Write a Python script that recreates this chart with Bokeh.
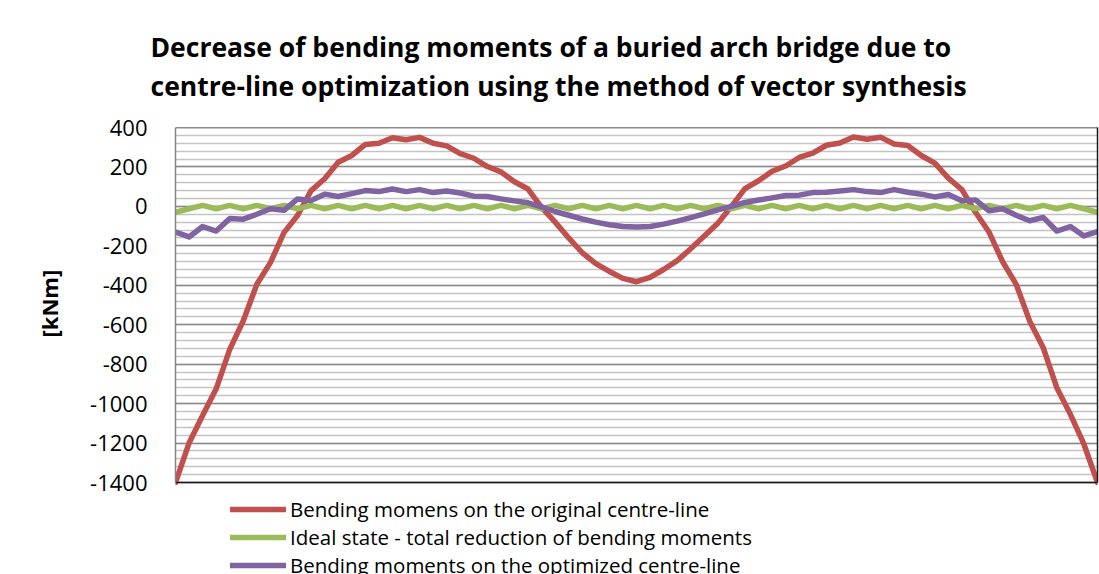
from bokeh.plotting import figure
from bokeh.models import Range1d, FixedTicker, Legend, LegendItem, Title, LinearAxis
from bokeh.embed import file_html
from bokeh.resources import INLINE

title_lines = [
    "Decrease of bending moments of a buried arch bridge due to",
    "centre-line optimization using the method of vector synthesis",
]
y_axis_label = "[kNm]"
series_names = [
    "Bending momens on the original centre-line",
    "Ideal state - total reduction of bending moments",
    "Bending moments on the optimized centre-line",
]
y_ticks = [-1400, -1200, -1000, -800, -600, -400, -200, 0, 200, 400]
y_tick_labels = ["-1400", "-1200", "-1000", "-800", "-600", "-400", "-200", "0", "200", "400"]

original = [-1400, -1200, -1060, -925, -725, -580, -395, -285, -133, -46, 80, 140, 224, 258,
            314, 320, 348, 338, 350, 320, 307, 268, 244, 202, 175, 125, 88, -5, -80, -160,
            -235, -290, -330, -365, -382, -360, -320, -275, -215, -150, -85, 0, 90, 130, 178,
            205, 248, 270, 310, 321, 352, 340, 351, 316, 309, 258, 219, 143, 85, -30, -130,
            -280, -395, -582, -717, -919, -1054, -1206, -1400]
ideal = [-30, -12, 5, -12, 5, -12, 5, -12, 5, -12, 5, -12, 5, -12, 5, -12, 5, -12, 5, -12,
         5, -12, 5, -12, 5, -12, 5, -12, 5, -12, 5, -12, 5, -12, 5, -12, 5, -12, 5, -12,
         5, -12, 5, -12, 5, -12, 5, -12, 5, -12, 5, -12, 5, -12, 5, -12, 5, -12, 5, -12,
         5, -12, 5, -12, 5, -12, 5, -12, -30]
optimized = [-130, -155, -102, -125, -62, -65, -40, -12, -20, 38, 30, 62, 50, 65, 80, 75, 88,
             75, 85, 70, 78, 68, 52, 50, 38, 28, 18, -3, -26, -45, -64, -80, -93, -102, -105,
             -102, -90, -75, -57, -38, -18, 0, 20, 32, 43, 55, 57, 70, 72, 78, 85, 75,
             70, 85, 72, 62, 48, 60, 28, 33, -22, -12, -45, -73, -56, -125, -102, -150, -128]
sections = list(range(len(original)))

colors = ["#C0504D", "#9BBB59", "#8064A2"]
FONT = "Open Sans"
Y_MIN, Y_MAX = y_ticks[0], y_ticks[-1]
# the frame reaches down to the canvas bottom so the legend can sit under the plot area
Y_LOW = Y_MIN - 92 * (Y_MAX - Y_MIN) / 355.0

p = figure(width=1099, height=574, output_backend="svg", toolbar_location=None,
           x_range=Range1d(sections[0], sections[-1]), y_range=Range1d(Y_LOW, Y_MAX),
           x_axis_location=None,
           min_border_left=175, min_border_right=2, min_border_top=127, min_border_bottom=0)
p.background_fill_color = "white"
p.border_fill_color = "white"
p.outline_line_color = None

# grid
p.xgrid.grid_line_color = None
p.yaxis.ticker = FixedTicker(ticks=y_ticks, minor_ticks=list(range(Y_MIN, Y_MAX + 1, 40)))
p.ygrid.grid_line_color = "#8a8a8a"
p.ygrid.grid_line_width = 1.5
p.ygrid.minor_grid_line_color = "#c4c4c4"
p.ygrid.minor_grid_line_width = 1.5


def bare_axis(ax, color):
    ax.ticker = FixedTicker(ticks=[])
    ax.major_label_standoff = 0
    ax.major_tick_in = 0
    ax.major_tick_out = 0
    ax.minor_tick_in = 0
    ax.minor_tick_out = 0
    ax.axis_line_color = color
    ax.axis_line_width = 1.5


# plot-area border: bottom, top and right lines
bottom_ax = LinearAxis(fixed_location=Y_MIN)
bare_axis(bottom_ax, "#1a1a1a")
p.add_layout(bottom_ax, "above")
top_ax = LinearAxis(fixed_location=Y_MAX)
bare_axis(top_ax, "#1a1a1a")
p.add_layout(top_ax, "above")
right_ax = LinearAxis(bounds=(Y_MIN, Y_MAX))
bare_axis(right_ax, "#1a1a1a")
p.add_layout(right_ax, "right")

# y axis
yax = p.yaxis[0]
yax.bounds = (Y_MIN, Y_MAX)
yax.major_label_overrides = {t: s for t, s in zip(y_ticks, y_tick_labels)}
yax.major_tick_in = 0
yax.major_tick_out = 0
yax.minor_tick_in = 0
yax.minor_tick_out = 0
yax.axis_line_color = "#868686"
yax.axis_line_width = 1.5
yax.major_label_standoff = 28
yax.major_label_text_font = FONT
yax.major_label_text_font_size = "22px"
yax.major_label_text_color = "black"

# axis title, centred on the plotted value range
p.add_layout(Title(text=y_axis_label, align="left", offset=237, standoff=47,
                   text_font=FONT, text_font_style="bold", text_font_size="22px",
                   text_color="black"), "left")

renderers = []
for vals, c in zip([original, ideal, optimized], colors):
    r = p.line(sections, vals, line_color=c, line_width=5.5, line_join="round", line_cap="round")
    renderers.append(r)

legend = Legend(items=[LegendItem(label=n, renderers=[r]) for n, r in zip(series_names, renderers)],
                location=(55, -5), orientation="vertical",
                label_text_font=FONT, label_text_font_size="20.5px", label_text_color="black",
                glyph_width=56, glyph_height=24, label_height=24, spacing=-5,
                padding=0, margin=0, label_standoff=4,
                border_line_color=None, background_fill_alpha=0)
p.add_layout(legend, "center")

p.add_layout(Title(text="\n".join(title_lines), align="left", offset=-25, standoff=47,
                   text_font=FONT, text_font_style="bold", text_font_size="26.5px",
                   text_line_height=1.08, text_color="black"), "above")

open("out.html", "w").write(file_html(p, INLINE))
